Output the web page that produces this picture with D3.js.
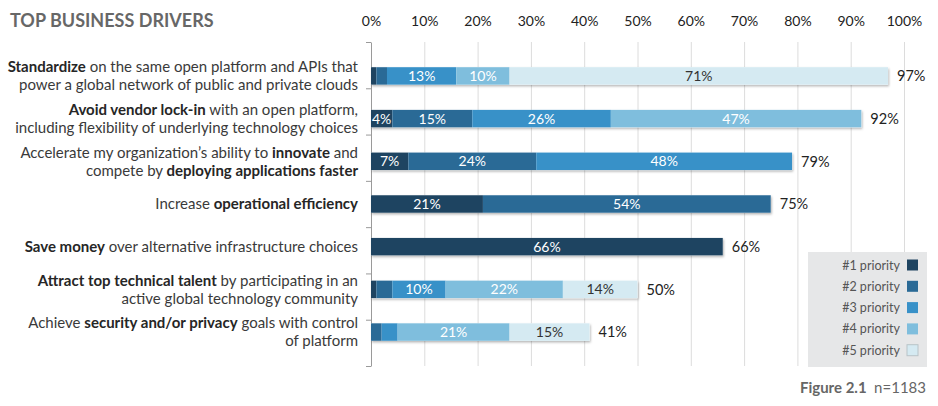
<!DOCTYPE html>
<html>
<head>
<meta charset="utf-8">
<script src="https://cdn.jsdelivr.net/npm/d3@7"></script>
<style>
  body { margin: 0; background: #fff; }
  svg { font-family: Lato, "Open Sans", sans-serif; }
</style>
</head>
<body>
<div id="chart-area"></div>
<script>
// row labels, **bold** parts marked
var labels = [
    ["**Standardize** on the same open platform and APIs that", "power a global network of public and private clouds"],
    ["**Avoid vendor lock-in** with an open platform,", "including flexibility of underlying technology choices"],
    ["Accelerate my organization\u2019s ability to **innovate** and", "compete by **deploying applications faster**"],
    ["Increase **operational efficiency**"],
    ["**Save money** over alternative infrastructure choices"],
    ["**Attract top technical talent** by participating in an", "active global technology community"],
    ["Achieve **security and/or privacy** goals with control", "of platform"]
];
var priorities = ["#1 priority", "#2 priority", "#3 priority", "#4 priority", "#5 priority"];
var p1 = [1, 4, 7, 21, 66, 1, 0];
var p2 = [2, 15, 24, 54, 0, 3, 2];
var p3 = [13, 26, 48, 0, 0, 10, 3];
var p4 = [10, 47, 0, 0, 0, 22, 21];
var p5 = [71, 0, 0, 0, 0, 14, 15];
var totals = [97, 92, 79, 75, 66, 50, 41];
var xTicks = [0, 10, 20, 30, 40, 50, 60, 70, 80, 90, 100];
var colors = ["#1e4461", "#2a6a96", "#3891c8", "#7fbedd", "#d5eaf2"];

var rows = labels.map(function(l, i) {
    return { i: i, p1: p1[i], p2: p2[i], p3: p3[i], p4: p4[i], p5: p5[i] };
});
var keys = ["p1", "p2", "p3", "p4", "p5"];
var series = d3.stack().keys(keys)(rows);

var svg = d3.select("#chart-area").append("svg")
    .attr("width", 938)
    .attr("height", 406);

var defs = svg.append("defs");
defs.append("filter").attr("id", "shadow")
    .attr("x", "-5%").attr("y", "-30%").attr("width", "110%").attr("height", "180%")
  .append("feDropShadow")
    .attr("dx", 1).attr("dy", 1.5).attr("stdDeviation", 1)
    .attr("flood-color", "#000").attr("flood-opacity", 0.3);

var x = d3.scaleLinear().domain([0, 100]).range([371, 904]);
var y = d3.scaleBand().domain(d3.range(labels.length)).range([42, 366]).padding(0.59);
var yEdge = d3.scaleLinear().domain([0, labels.length]).range([42, 366]);

// title
svg.append("text")
    .attr("x", 10).attr("y", 27)
    .attr("font-size", 18).attr("font-weight", "bold")
    .attr("fill", "#676767")
    .text("TOP BUSINESS DRIVERS");

// gridlines
var grid = svg.append("g")
    .attr("transform", "translate(0,42)")
    .call(d3.axisBottom(x).tickValues(xTicks.slice(1)).tickSize(324).tickFormat(""));
grid.select(".domain").remove();
grid.selectAll("line").attr("stroke", "#dcdcdc");

// top tick labels
var topAxis = svg.append("g")
    .attr("transform", "translate(0,26)")
    .call(d3.axisTop(x).tickValues(xTicks).tickSize(0).tickPadding(0).tickFormat(function(d) { return d + "%"; }));
topAxis.select(".domain").remove();
topAxis.selectAll("text")
    .attr("font-family", "Lato, sans-serif")
    .attr("font-size", 14).attr("fill", "#222");

// left axis with ticks between rows
var leftAxis = svg.append("g")
    .attr("transform", "translate(371,0)")
    .call(d3.axisLeft(yEdge).tickValues(d3.range(labels.length + 1)).tickSize(5).tickSizeOuter(0).tickFormat(""));
leftAxis.select(".domain").attr("stroke", "#9a9a9a");
leftAxis.selectAll("line").attr("stroke", "#9a9a9a");

// shadows under the whole bars
svg.append("g").selectAll("rect")
    .data(totals)
    .enter().append("rect")
        .attr("x", x(0))
        .attr("y", function(d, i) { return y(i); })
        .attr("width", function(d) { return x(d) - x(0); })
        .attr("height", y.bandwidth())
        .attr("fill", "#fff")
        .attr("filter", "url(#shadow)");

// bars
var layer = svg.append("g").selectAll("g")
    .data(series)
    .enter().append("g")
        .attr("fill", function(d, i) { return colors[i]; });

layer.selectAll("rect")
    .data(function(d) { return d; })
    .enter().append("rect")
        .attr("x", function(d) { return x(d[0]); })
        .attr("y", function(d) { return y(d.data.i); })
        .attr("width", function(d) { return x(d[1]) - x(d[0]); })
        .attr("height", y.bandwidth());

// segment labels
series.forEach(function(s, k) {
    svg.append("g").selectAll("text")
        .data(s.filter(function(d) { return d[1] - d[0] >= 4; }))
        .enter().append("text")
            .attr("x", function(d) { return (x(d[0]) + x(d[1])) / 2; })
            .attr("y", function(d) { return y(d.data.i) + y.bandwidth() / 2; })
            .attr("dy", "0.36em")
            .attr("text-anchor", "middle")
            .attr("font-size", 14)
            .attr("fill", k === 4 ? "#333" : "#fff")
            .text(function(d) { return (d[1] - d[0]) + "%"; });
});

// totals
svg.append("g").selectAll("text")
    .data(totals)
    .enter().append("text")
        .attr("x", function(d) { return x(d) + 9; })
        .attr("y", function(d, i) { return y(i) + y.bandwidth() / 2; })
        .attr("dy", "0.36em")
        .attr("font-size", 14.5).attr("fill", "#222")
        .text(function(d) { return d + "%"; });

// row labels
labels.forEach(function(lines, i) {
    var cy = y(i) + y.bandwidth() / 2;
    lines.forEach(function(line, j) {
        var t = svg.append("text")
            .attr("x", 358)
            .attr("y", cy + (j - (lines.length - 1) / 2) * 18)
            .attr("dy", "0.36em")
            .attr("text-anchor", "end")
            .attr("font-size", 15)
            .attr("fill", "#3a3a3a");
        line.split("**").forEach(function(part, k) {
            if (!part) return;
            t.append("tspan")
                .attr("font-weight", k % 2 ? "bold" : null)
                .attr("fill", k % 2 ? "#262626" : null)
                .text(part);
        });
    });
});

// legend
var legend = svg.append("g");
legend.append("rect")
    .attr("x", 808).attr("y", 252).attr("width", 119).attr("height", 115)
    .attr("fill", "#e6e7e8");
var items = legend.selectAll("g")
    .data(priorities)
    .enter().append("g")
        .attr("transform", function(d, i) { return "translate(0," + (265 + i * 21.3) + ")"; });
items.append("rect")
    .attr("x", 907).attr("y", -5.5).attr("width", 11).attr("height", 11)
    .attr("fill", function(d, i) { return colors[i]; })
    .attr("stroke", function(d, i) { return i === 4 ? "#b8c4c8" : "none"; });
items.append("text")
    .attr("x", 900).attr("dy", "0.36em")
    .attr("text-anchor", "end")
    .attr("font-size", 12.5).attr("fill", "#555")
    .text(function(d) { return d; });

// figure note
var note = svg.append("text")
    .attr("x", 926).attr("y", 393)
    .attr("text-anchor", "end")
    .attr("font-size", 15).attr("fill", "#666");
note.append("tspan").attr("font-weight", "bold").text("Figure 2.1");
note.append("tspan").text("\u2002n=1183");
</script>
</body>
</html>
